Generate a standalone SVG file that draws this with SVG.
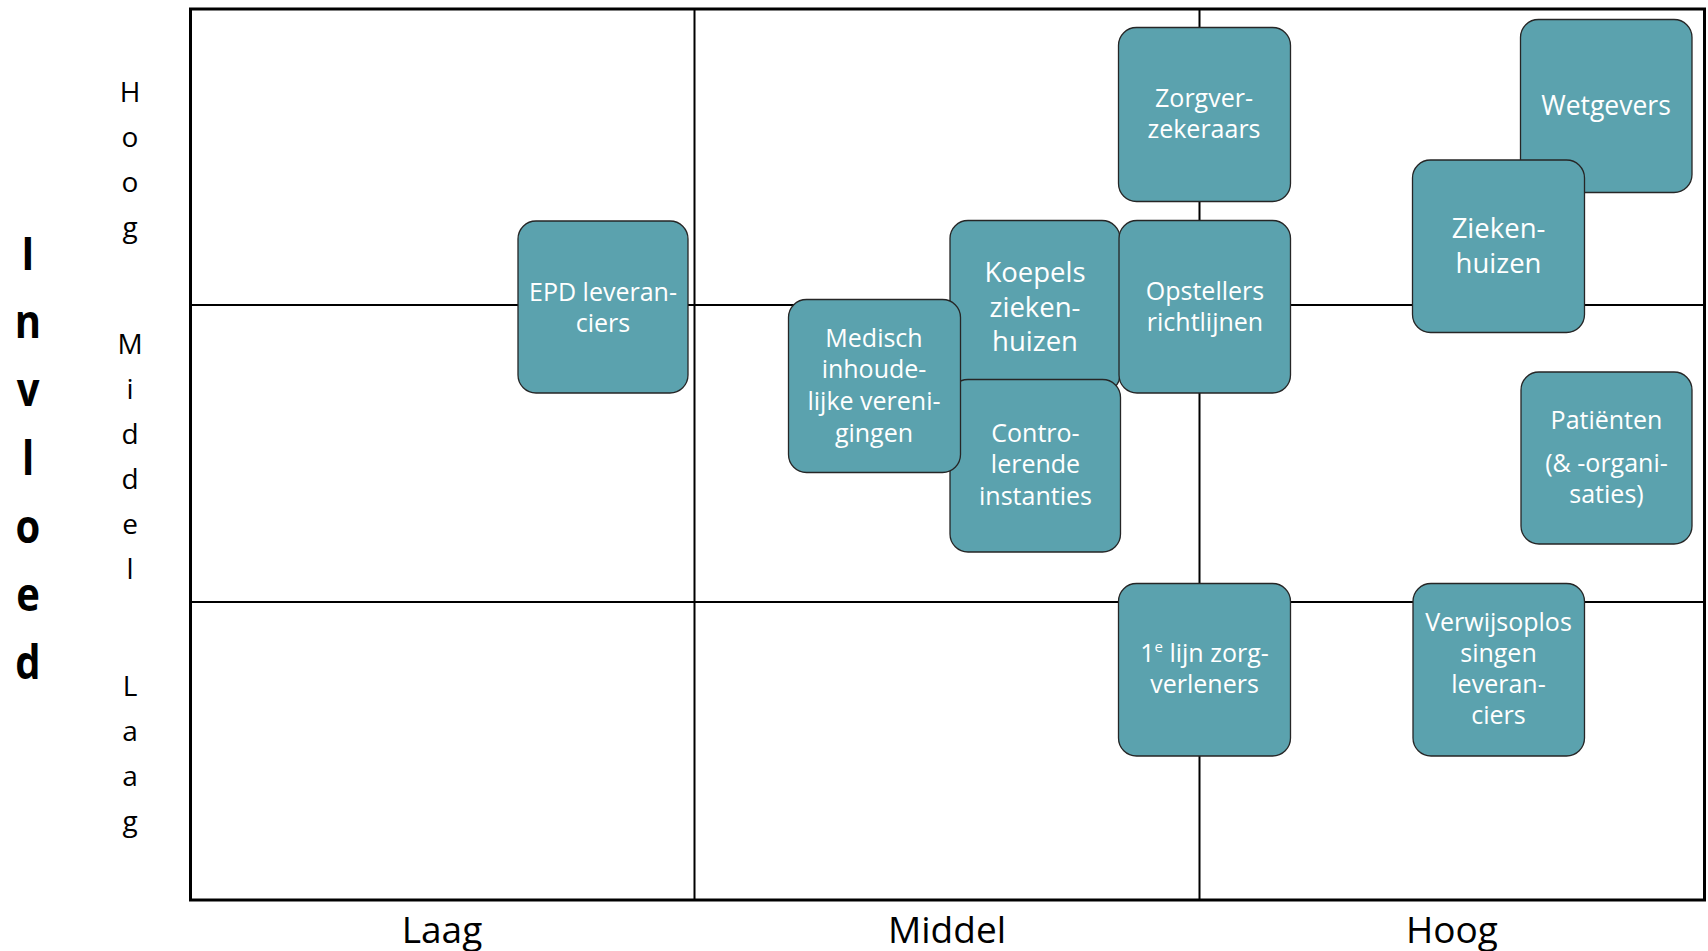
<svg xmlns="http://www.w3.org/2000/svg" width="1708" height="951" viewBox="0 0 1708 951">
<style>
.grid{stroke:#000;stroke-width:2;fill:none}
.frame{stroke:#000;stroke-width:3;fill:none}
.box{fill:#5BA2AE;stroke:#262626;stroke-width:1.3}
.t{font-family:"Open Sans","Noto Sans",sans-serif;font-size:25px;fill:#fff;text-anchor:middle}
.big{font-size:27.5px}
.ax{font-family:"Open Sans","Noto Sans",sans-serif;font-size:28px;fill:#000;text-anchor:middle}
.inv{font-family:"Open Sans","Noto Sans",sans-serif;font-size:40px;font-weight:bold;fill:#000;text-anchor:middle}
.xl{font-family:"Open Sans","Noto Sans",sans-serif;font-size:37px;fill:#000;text-anchor:middle}
</style>
<rect width="1708" height="951" fill="#fff"/>
<g id="grid">
<rect class="frame" x="190.5" y="9" width="1514" height="891"/>
<line class="grid" x1="190" y1="305" x2="1705" y2="305"/>
<line class="grid" x1="190" y1="602" x2="1705" y2="602"/>
<line class="grid" x1="694.5" y1="9" x2="694.5" y2="900"/>
<line class="grid" x1="1199.5" y1="9" x2="1199.5" y2="900"/>
</g>
<g id="axis-y-title">
<text class="inv" transform="translate(28,270) scale(1,1.15)">I</text>
<text class="inv" transform="translate(28,338) scale(1,1.15)">n</text>
<text class="inv" transform="translate(28,406) scale(1,1.15)">v</text>
<text class="inv" transform="translate(28,475) scale(1,1.15)">l</text>
<text class="inv" transform="translate(28,543) scale(1,1.15)">o</text>
<text class="inv" transform="translate(28,611) scale(1,1.15)">e</text>
<text class="inv" transform="translate(28,679) scale(1,1.15)">d</text>
</g>
<g id="axis-y-labels">
<text class="ax" x="130" y="102">H</text>
<text class="ax" x="130" y="147">o</text>
<text class="ax" x="130" y="192">o</text>
<text class="ax" x="130" y="237">g</text>
<text class="ax" x="130" y="354">M</text>
<text class="ax" x="130" y="399">i</text>
<text class="ax" x="130" y="444">d</text>
<text class="ax" x="130" y="489">d</text>
<text class="ax" x="130" y="534">e</text>
<text class="ax" x="130" y="579">l</text>
<text class="ax" x="130" y="696">L</text>
<text class="ax" x="130" y="741">a</text>
<text class="ax" x="130" y="786">a</text>
<text class="ax" x="130" y="831">g</text>
</g>
<g id="axis-x-labels">
<text class="xl" x="442" y="943">Laag</text>
<text class="xl" x="947" y="943">Middel</text>
<text class="xl" x="1452" y="943">Hoog</text>
</g>
<g id="connectors"></g>
<g id="epd">
<rect class="box" x="518" y="221" width="170" height="172" rx="18"/>
<text class="t" x="603" y="300.5">EPD leveran-</text>
<text class="t" x="603" y="331.5">ciers</text>
</g>
<g id="zorgverzekeraars">
<rect class="box" x="1118.5" y="27.5" width="172" height="174" rx="18"/>
<text class="t" x="1204" y="107.3">Zorgver-</text>
<text class="t" x="1204" y="138.3">zekeraars</text>
</g>
<g id="wetgevers">
<rect class="box" x="1520.5" y="19.5" width="171.5" height="173" rx="18"/>
<text class="t" x="1606" y="115" style="font-size:26.5px">Wetgevers</text>
</g>
<g id="ziekenhuizen">
<rect class="box" x="1412.5" y="160" width="172" height="172.5" rx="18"/>
<text class="t big" x="1498.5" y="238.3">Zieken-</text>
<text class="t big" x="1498.5" y="273.3">huizen</text>
</g>
<g id="koepels">
<rect class="box" x="950" y="220.5" width="170" height="172" rx="18"/>
<text class="t big" x="1035" y="282.3">Koepels</text>
<text class="t big" x="1035" y="316.7">zieken-</text>
<text class="t big" x="1035" y="350.7">huizen</text>
</g>
<g id="opstellers">
<rect class="box" x="1119" y="220.5" width="171.5" height="172.5" rx="18"/>
<text class="t" x="1205" y="299.5">Opstellers</text>
<text class="t" x="1205" y="330.5">richtlijnen</text>
</g>
<g id="controlerende">
<rect class="box" x="950" y="379.5" width="170.5" height="172.5" rx="18"/>
<text class="t" x="1035.5" y="442.3">Contro-</text>
<text class="t" x="1035.5" y="473.3">lerende</text>
<text class="t" x="1035.5" y="505">instanties</text>
</g>
<g id="medisch">
<rect class="box" x="788.5" y="299.5" width="172" height="173" rx="18"/>
<text class="t" x="874" y="346.7">Medisch</text>
<text class="t" x="874" y="378.3">inhoude-</text>
<text class="t" x="874" y="410">lijke vereni-</text>
<text class="t" x="874" y="441.7">gingen</text>
</g>
<g id="patienten">
<rect class="box" x="1521" y="372" width="171" height="172" rx="18"/>
<text class="t" x="1606.5" y="429">Patiënten</text>
<text class="t" x="1606.5" y="472">(&amp; -organi-</text>
<text class="t" x="1606.5" y="503">saties)</text>
</g>
<g id="eerstelijn">
<rect class="box" x="1118.5" y="583.5" width="172" height="172.5" rx="18"/>
<text class="t" x="1204.5" y="661.7">1<tspan font-size="15" dy="-10">e</tspan><tspan dy="10"> lijn zorg-</tspan></text>
<text class="t" x="1204.5" y="692.7">verleners</text>
</g>
<g id="verwijsoplossingen">
<rect class="box" x="1413" y="583.5" width="171.5" height="172.5" rx="18"/>
<text class="t" x="1498.5" y="631">Verwijsoplos</text>
<text class="t" x="1498.5" y="662">singen</text>
<text class="t" x="1498.5" y="693">leveran-</text>
<text class="t" x="1498.5" y="724">ciers</text>
</g>
</svg>
